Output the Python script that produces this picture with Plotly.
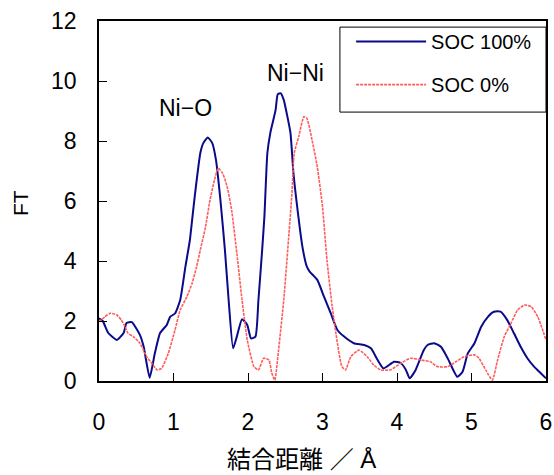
import plotly.graph_objects as go

# SOC 100% (blue)
x_soc100 = [0.0, 0.05, 0.125, 0.24, 0.33, 0.37, 0.44, 0.55, 0.6, 0.68, 0.75, 0.82, 0.91, 0.955,
            1.02, 1.09, 1.16, 1.22, 1.25, 1.29, 1.36, 1.4, 1.46, 1.52, 1.57, 1.63, 1.69, 1.74,
            1.80, 1.85, 1.92, 1.99, 2.04, 2.1, 2.14, 2.19, 2.22, 2.26, 2.3, 2.37, 2.40, 2.44,
            2.48, 2.52, 2.57, 2.61, 2.66, 2.73, 2.79, 2.83, 2.93, 3.02, 3.11, 3.2, 3.29, 3.42,
            3.56, 3.65, 3.74, 3.82, 3.96, 4.05, 4.12, 4.17, 4.25, 4.36, 4.41, 4.5, 4.59, 4.68,
            4.81, 4.88, 4.95, 5.04, 5.13, 5.22, 5.30, 5.39, 5.48, 5.57, 5.66, 5.75, 5.84, 5.93, 6.0]
y_soc100 = [2.09, 2.0, 1.6, 1.37, 1.6, 1.93, 1.96, 1.53, 1.14, 0.11, 0.93, 1.6, 1.87, 2.14,
            2.25, 2.7, 3.81, 4.7, 5.37, 6.26, 7.6, 7.93, 8.12, 7.93, 7.37, 6.03, 4.37, 2.7,
            1.09, 1.48, 2.06, 1.87, 1.42, 1.48, 2.7, 4.37, 5.48, 7.6, 8.27, 9.03, 9.56, 9.59,
            9.37, 8.92, 8.27, 6.93, 5.81, 4.48, 3.81, 3.64, 3.37, 2.81, 2.26, 1.7, 1.48, 1.26,
            1.2, 1.09, 0.7, 0.42, 0.64, 0.6, 0.37, 0.09, 0.37, 1.03, 1.2, 1.26, 1.14, 0.76,
            0.14, 0.31, 0.92, 1.26, 1.81, 2.14, 2.31, 2.31, 2.03, 1.59, 1.14, 0.76, 0.48, 0.26, 0.09]

# SOC 0% (red)
x_soc0 = [0.0, 0.08, 0.15, 0.24, 0.3, 0.35, 0.39, 0.46, 0.55, 0.64, 0.71, 0.78, 0.84, 0.93,
          1.02, 1.09, 1.18, 1.25, 1.31, 1.36, 1.43, 1.49, 1.55, 1.6, 1.66, 1.72, 1.78, 1.85,
          1.92, 1.99, 2.08, 2.14, 2.21, 2.28, 2.32, 2.36, 2.41, 2.48, 2.55, 2.59, 2.62, 2.68,
          2.75, 2.79, 2.86, 2.93, 3.0, 3.06, 3.13, 3.2, 3.26, 3.31, 3.38, 3.49, 3.6, 3.69,
          3.78, 3.91, 4.05, 4.18, 4.32, 4.45, 4.54, 4.68, 4.79, 4.9, 5.04, 5.1, 5.19, 5.28,
          5.35, 5.44, 5.53, 5.62, 5.71, 5.8, 5.89, 6.0]
y_soc0 = [1.98, 2.14, 2.26, 2.2, 2.03, 1.81, 1.59, 1.48, 1.26, 0.81, 0.59, 0.37, 0.42, 0.92,
          1.7, 2.37, 2.81, 3.26, 3.81, 4.37, 5.14, 6.03, 6.7, 7.09, 6.92, 6.48, 5.7, 4.26,
          2.7, 1.37, 0.48, 0.37, 0.76, 0.7, 0.26, 0.03, 1.03, 2.7, 4.92, 6.26, 7.59, 8.14,
          8.81, 8.76, 8.03, 7.14, 5.81, 4.03, 2.48, 1.26, 0.48, 0.37, 0.81, 1.03, 0.81, 0.53,
          0.37, 0.37, 0.59, 0.76, 0.7, 0.64, 0.48, 0.48, 0.64, 0.81, 0.87, 0.76, 0.37, 0.03,
          0.7, 1.48, 1.92, 2.37, 2.53, 2.48, 2.14, 1.37]

series_names = ["SOC 100%", "SOC 0%"]
peak_labels = ["Ni\u2212O", "Ni\u2212Ni"]
peak_x = [1.16, 2.64]
peak_y = [9.1, 10.27]

x_ticks = [0, 1, 2, 3, 4, 5, 6]
y_ticks = [0, 2, 4, 6, 8, 10, 12]
x_title = "結合距離 ／ Å"
y_title = "FT"

FONT = "Arial, Liberation Sans, Noto Sans CJK JP, sans-serif"

fig = go.Figure()
fig.add_trace(go.Scatter(x=x_soc100, y=y_soc100, mode="lines", name=series_names[0],
                         legendgroup="a",
                         line=dict(color="#0a0a8a", width=2, shape="spline", smoothing=0.5)))
fig.add_trace(go.Scatter(x=x_soc0, y=y_soc0, mode="lines", name=series_names[1],
                         legendgroup="b",
                         line=dict(color="#ff5c5c", width=1.6, dash="3px,1px",
                                   shape="spline", smoothing=0.5)))

for lbl, px, py in zip(peak_labels, peak_x, peak_y):
    fig.add_annotation(x=px, y=py, text=lbl, showarrow=False,
                       font=dict(size=23, color="black", family=FONT))

fig.add_annotation(xref="paper", yref="paper", x=0.454, y=-0.218, text=x_title,
                   showarrow=False, xanchor="center", yanchor="middle",
                   font=dict(size=24, color="black", family=FONT))
fig.add_annotation(xref="paper", yref="paper", x=-0.177, y=0.494, text=y_title,
                   showarrow=False, xanchor="center", yanchor="middle", textangle=-90,
                   font=dict(size=21, color="black", family=FONT))

# legend frame
fig.add_shape(type="rect", xref="paper", yref="paper", x0=0.539, x1=1.0, y0=0.747, y1=0.983,
              line=dict(color="black", width=1), fillcolor="white", layer="below")

fig.update_layout(
    width=554, height=475,
    margin=dict(l=99, r=8, t=21, b=94, autoexpand=False),
    paper_bgcolor="white", plot_bgcolor="white",
    font=dict(family=FONT, color="black"),
    showlegend=True,
    legend=dict(x=0.564, y=0.997, xanchor="left", yanchor="top",
                borderwidth=0, bgcolor="rgba(0,0,0,0)",
                traceorder="grouped", tracegroupgap=14,
                font=dict(size=20, family=FONT), itemwidth=70),
    xaxis=dict(range=[0, 6], tickvals=x_ticks, ticks="inside", ticklen=8,
               tickcolor="black", showline=True, linecolor="black", linewidth=1.5,
               mirror=True, showgrid=False, zeroline=False, automargin=False,
               tickfont=dict(size=23, family=FONT), ticklabelstandoff=20,
               ticklabeloverflow="allow"),
    yaxis=dict(range=[0, 12], tickvals=y_ticks, ticks="inside", ticklen=8,
               tickcolor="black", showline=True, linecolor="black", linewidth=1.5,
               mirror=True, showgrid=False, zeroline=False, automargin=False,
               tickfont=dict(size=23, family=FONT), ticklabelstandoff=16),
)

fig.write_html("out.html", config={"displayModeBar": False},
               post_script="document.body.style.margin='0';document.body.style.overflow='hidden';")
